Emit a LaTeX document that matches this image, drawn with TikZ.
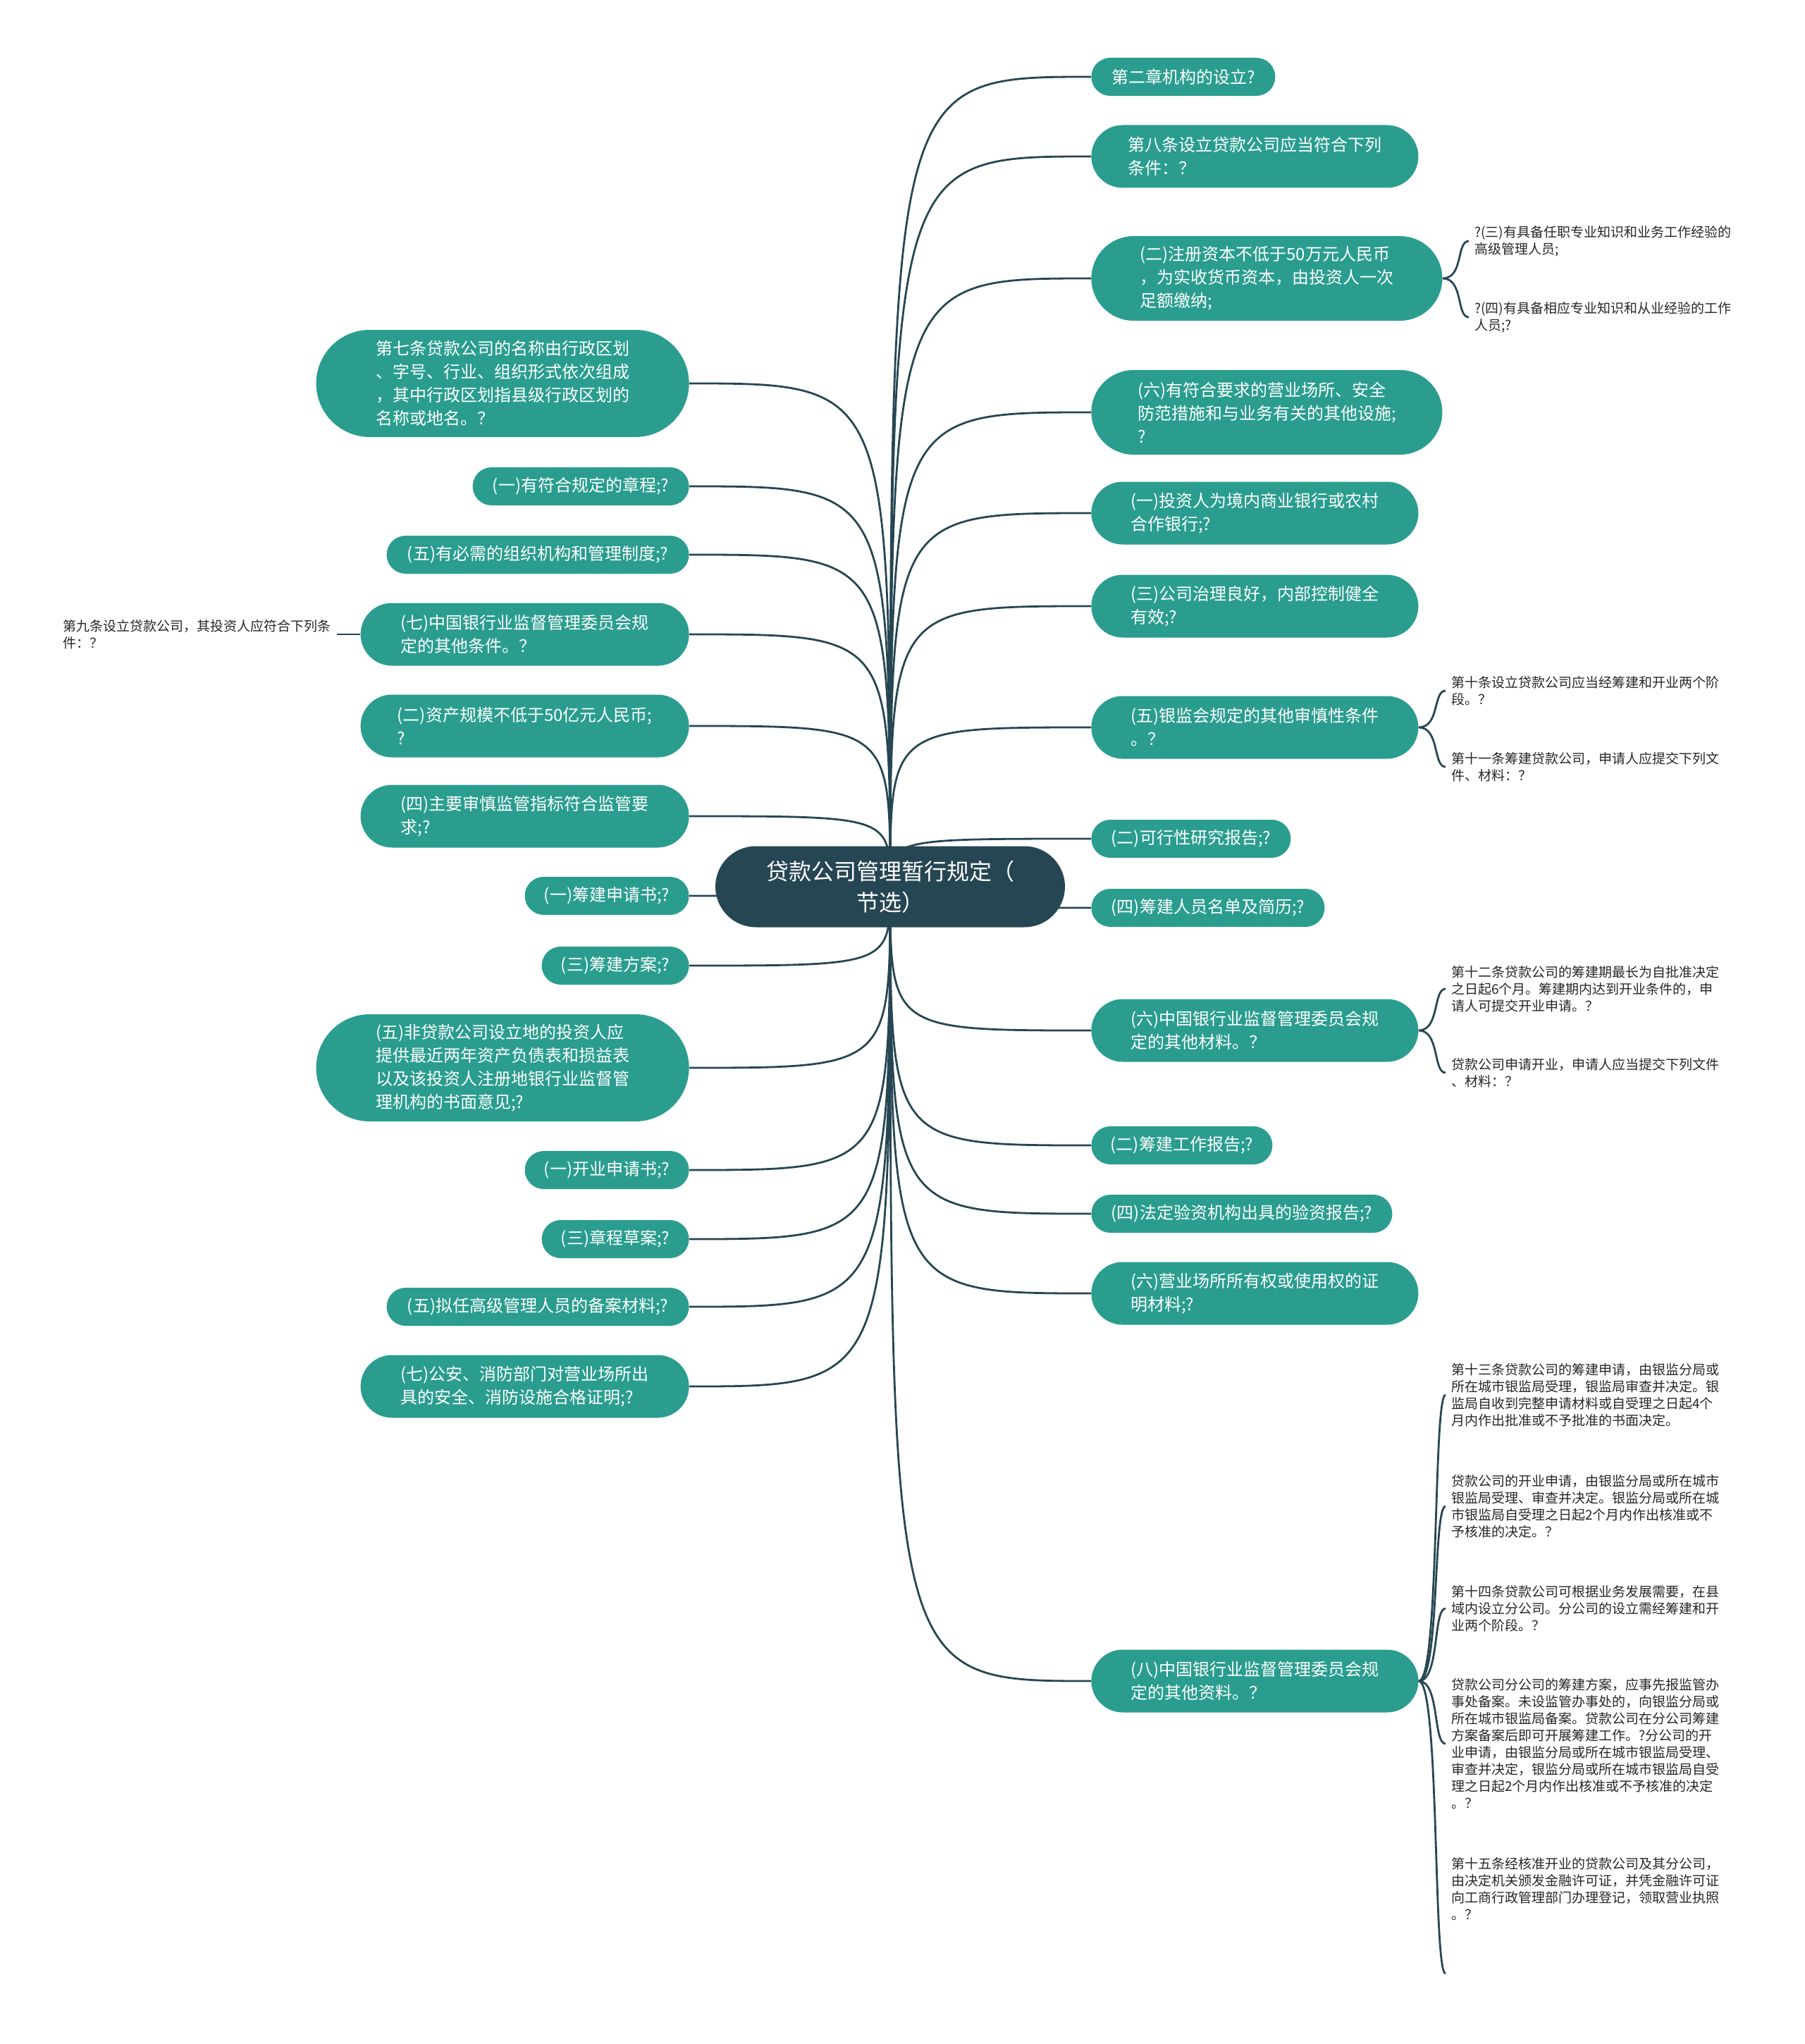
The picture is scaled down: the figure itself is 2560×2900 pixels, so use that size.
\documentclass[tikz,border=0pt]{standalone}
\usepackage{fontspec}
\setmainfont{Noto Sans CJK SC}
\usetikzlibrary{shapes.misc,backgrounds}
\definecolor{deep}{HTML}{264653}
\definecolor{sea}{HTML}{2A9D8F}
\definecolor{ink}{HTML}{262626}

\begin{document}
\begin{tikzpicture}[
            x=0.5pt,
            y=-0.5pt,
            topic/.style={
                rounded rectangle,
                fill=deep,
                text=white,
                align=center,
                inner sep=0pt,
                font=\fontsize{16}{22}\selectfont
            },
            branch/.style={
                rounded rectangle,
                fill=sea,
                text=white,
                align=left,
                inner sep=0pt,
                font=\fontsize{12}{16.5}\selectfont
            },
            lines1/.style={minimum height=27pt},
            lines2/.style={minimum height=44.5pt},
            lines3/.style={minimum height=60pt},
            lines4/.style={minimum height=76pt},
            leaf/.style={
                align=left,
                text=ink,
                inner xsep=4pt,
                inner ysep=0pt,
                font=\fontsize{9.5}{12}\selectfont
            },
            link/.style={
                draw=deep,
                line width=1.4pt
            }
        ]

            \useasboundingbox (0, 0) rectangle (2560, 2900);

            \node[topic, minimum width=248pt, minimum height=57.5pt] (c) at (1263, 1258)
                {贷款公司管理暂行规定（\\节选）};

            % right side
            \node[branch, lines1, anchor=west, minimum width=130.5pt] (r1) at (1548, 109)
                {第二章机构的设立?};
            \node[branch, lines2, anchor=west, minimum width=232pt] (r2) at (1548, 222)
                {第八条设立贷款公司应当符合下列\\条件：？};
            \node[branch, lines3, anchor=west, minimum width=249pt] (r3) at (1548, 395)
                {(二)注册资本不低于50万元人民币\\，为实收货币资本，由投资人一次\\足额缴纳;};
            \node[branch, lines3, anchor=west, minimum width=249pt] (r4) at (1548, 585)
                {(六)有符合要求的营业场所、安全\\防范措施和与业务有关的其他设施;\\?};
            \node[branch, lines2, anchor=west, minimum width=232pt] (r5) at (1548, 728)
                {(一)投资人为境内商业银行或农村\\合作银行;?};
            \node[branch, lines2, anchor=west, minimum width=232pt] (r6) at (1548, 860)
                {(三)公司治理良好，内部控制健全\\有效;?};
            \node[branch, lines2, anchor=west, minimum width=232pt] (r7) at (1548, 1032)
                {(五)银监会规定的其他审慎性条件\\。？};
            \node[branch, lines1, anchor=west, minimum width=141.5pt] (r8) at (1548, 1190)
                {(二)可行性研究报告;?};
            \node[branch, lines1, anchor=west, minimum width=165.5pt] (r9) at (1548, 1288)
                {(四)筹建人员名单及简历;?};
            \node[branch, lines2, anchor=west, minimum width=232pt] (r10) at (1548, 1462)
                {(六)中国银行业监督管理委员会规\\定的其他材料。？};
            \node[branch, lines1, anchor=west, minimum width=128.5pt] (r11) at (1548, 1625)
                {(二)筹建工作报告;?};
            \node[branch, lines1, anchor=west, minimum width=213.5pt] (r12) at (1548, 1722)
                {(四)法定验资机构出具的验资报告;?};
            \node[branch, lines2, anchor=west, minimum width=232pt] (r13) at (1548, 1835)
                {(六)营业场所所有权或使用权的证\\明材料;?};
            \node[branch, lines2, anchor=west, minimum width=232pt] (r14) at (1548, 2385)
                {(八)中国银行业监督管理委员会规\\定的其他资料。？};

            % left side
            \node[branch, lines4, anchor=east, minimum width=264.5pt] (l1) at (978, 544)
                {第七条贷款公司的名称由行政区划\\、字号、行业、组织形式依次组成\\，其中行政区划指县级行政区划的\\名称或地名。？};
            \node[branch, lines1, anchor=east, minimum width=153.5pt] (l2) at (978, 690)
                {(一)有符合规定的章程;?};
            \node[branch, lines1, anchor=east, minimum width=214.5pt] (l3) at (978, 787)
                {(五)有必需的组织机构和管理制度;?};
            \node[branch, lines2, anchor=east, minimum width=233pt] (l4) at (978, 900)
                {(七)中国银行业监督管理委员会规\\定的其他条件。？};
            \node[branch, lines2, anchor=east, minimum width=233pt] (l5) at (978, 1030)
                {(二)资产规模不低于50亿元人民币;\\?};
            \node[branch, lines2, anchor=east, minimum width=233pt] (l6) at (978, 1158)
                {(四)主要审慎监管指标符合监管要\\求;?};
            \node[branch, lines1, anchor=east, minimum width=116.5pt] (l7) at (978, 1271)
                {(一)筹建申请书;?};
            \node[branch, lines1, anchor=east, minimum width=104.5pt] (l8) at (978, 1370)
                {(三)筹建方案;?};
            \node[branch, lines4, anchor=east, minimum width=264.5pt] (l9) at (978, 1515)
                {(五)非贷款公司设立地的投资人应\\提供最近两年资产负债表和损益表\\以及该投资人注册地银行业监督管\\理机构的书面意见;?};
            \node[branch, lines1, anchor=east, minimum width=116.5pt] (l10) at (978, 1660)
                {(一)开业申请书;?};
            \node[branch, lines1, anchor=east, minimum width=104.5pt] (l11) at (978, 1758)
                {(三)章程草案;?};
            \node[branch, lines1, anchor=east, minimum width=214.5pt] (l12) at (978, 1854)
                {(五)拟任高级管理人员的备案材料;?};
            \node[branch, lines2, anchor=east, minimum width=233pt] (l13) at (978, 1967)
                {(七)公安、消防部门对营业场所出\\具的安全、消防设施合格证明;?};

            % leaves
            \node[leaf, anchor=east] (n9) at (478, 900)
                {第九条设立贷款公司，其投资人应符合下列条\\件：？};
            \node[leaf, anchor=west] (a1) at (2084, 342)
                {?(三)有具备任职专业知识和业务工作经验的\\高级管理人员;};
            \node[leaf, anchor=west] (a2) at (2084, 450)
                {?(四)有具备相应专业知识和从业经验的工作\\人员;?};
            \node[leaf, anchor=west] (b1) at (2051, 980)
                {第十条设立贷款公司应当经筹建和开业两个阶\\段。？};
            \node[leaf, anchor=west] (b2) at (2051, 1088)
                {第十一条筹建贷款公司，申请人应提交下列文\\件、材料：？};
            \node[leaf, anchor=west] (m1) at (2051, 1403)
                {第十二条贷款公司的筹建期最长为自批准决定\\之日起6个月。筹建期内达到开业条件的，申\\请人可提交开业申请。？};
            \node[leaf, anchor=west] (m2) at (2051, 1522)
                {贷款公司申请开业，申请人应当提交下列文件\\、材料：？};
            \node[leaf, anchor=west] (d1) at (2051, 1979)
                {第十三条贷款公司的筹建申请，由银监分局或\\所在城市银监局受理，银监局审查并决定。银\\监局自收到完整申请材料或自受理之日起4个\\月内作出批准或不予批准的书面决定。};
            \node[leaf, anchor=west] (d2) at (2051, 2137)
                {贷款公司的开业申请，由银监分局或所在城市\\银监局受理、审查并决定。银监分局或所在城\\市银监局自受理之日起2个月内作出核准或不\\予核准的决定。？};
            \node[leaf, anchor=west] (d3) at (2051, 2282)
                {第十四条贷款公司可根据业务发展需要，在县\\域内设立分公司。分公司的设立需经筹建和开\\业两个阶段。？};
            \node[leaf, anchor=west] (d4) at (2051, 2474)
                {贷款公司分公司的筹建方案，应事先报监管办\\事处备案。未设监管办事处的，向银监分局或\\所在城市银监局备案。贷款公司在分公司筹建\\方案备案后即可开展筹建工作。?分公司的开\\业申请，由银监分局或所在城市银监局受理、\\审查并决定，银监分局或所在城市银监局自受\\理之日起2个月内作出核准或不予核准的决定\\。？};
            \node[leaf, anchor=west] (d5) at (2051, 2680)
                {第十五条经核准开业的贷款公司及其分公司，\\由决定机关颁发金融许可证，并凭金融许可证\\向工商行政管理部门办理登记，领取营业执照\\。？};
            \coordinate (d5end) at (2051, 2800);

            \begin{scope}[on background layer]
                \draw[link] (c.center) .. controls (c.center |- r1.west) .. (r1.west);
                \draw[link] (c.center) .. controls (c.center |- r2.west) .. (r2.west);
                \draw[link] (c.center) .. controls (c.center |- r3.west) .. (r3.west);
                \draw[link] (c.center) .. controls (c.center |- r4.west) .. (r4.west);
                \draw[link] (c.center) .. controls (c.center |- r5.west) .. (r5.west);
                \draw[link] (c.center) .. controls (c.center |- r6.west) .. (r6.west);
                \draw[link] (c.center) .. controls (c.center |- r7.west) .. (r7.west);
                \draw[link] (c.center) .. controls (c.center |- r8.west) .. (r8.west);
                \draw[link] (c.center) .. controls (c.center |- r9.west) .. (r9.west);
                \draw[link] (c.center) .. controls (c.center |- r10.west) .. (r10.west);
                \draw[link] (c.center) .. controls (c.center |- r11.west) .. (r11.west);
                \draw[link] (c.center) .. controls (c.center |- r12.west) .. (r12.west);
                \draw[link] (c.center) .. controls (c.center |- r13.west) .. (r13.west);
                \draw[link] (c.center) .. controls (c.center |- r14.west) .. (r14.west);

                \draw[link] (c.center) .. controls (c.center |- l1.east) .. (l1.east);
                \draw[link] (c.center) .. controls (c.center |- l2.east) .. (l2.east);
                \draw[link] (c.center) .. controls (c.center |- l3.east) .. (l3.east);
                \draw[link] (c.center) .. controls (c.center |- l4.east) .. (l4.east);
                \draw[link] (c.center) .. controls (c.center |- l5.east) .. (l5.east);
                \draw[link] (c.center) .. controls (c.center |- l6.east) .. (l6.east);
                \draw[link] (c.center) .. controls (c.center |- l7.east) .. (l7.east);
                \draw[link] (c.center) .. controls (c.center |- l8.east) .. (l8.east);
                \draw[link] (c.center) .. controls (c.center |- l9.east) .. (l9.east);
                \draw[link] (c.center) .. controls (c.center |- l10.east) .. (l10.east);
                \draw[link] (c.center) .. controls (c.center |- l11.east) .. (l11.east);
                \draw[link] (c.center) .. controls (c.center |- l12.east) .. (l12.east);
                \draw[link] (c.center) .. controls (c.center |- l13.east) .. (l13.east);

                \draw[link] (l4.west) -- (n9.east);

                \draw[link] (r3.east) .. controls +(30, 0) and +(-18, 0) .. (a1.west);
                \draw[link] (r3.east) .. controls +(30, 0) and +(-18, 0) .. (a2.west);
                \draw[link] (r7.east) .. controls +(30, 0) and +(-18, 0) .. (b1.west);
                \draw[link] (r7.east) .. controls +(30, 0) and +(-18, 0) .. (b2.west);
                \draw[link] (r10.east) .. controls +(30, 0) and +(-18, 0) .. (m1.west);
                \draw[link] (r10.east) .. controls +(30, 0) and +(-18, 0) .. (m2.west);
                \draw[link] (r14.east) .. controls +(30, 0) and +(-18, 0) .. (d1.west);
                \draw[link] (r14.east) .. controls +(30, 0) and +(-18, 0) .. (d2.west);
                \draw[link] (r14.east) .. controls +(30, 0) and +(-18, 0) .. (d3.west);
                \draw[link] (r14.east) .. controls +(30, 0) and +(-18, 0) .. (d4.west);
                \draw[link] (r14.east) .. controls +(30, 0) and +(-18, 0) .. (d5end);
            \end{scope}

        \end{tikzpicture}
\end{document}
